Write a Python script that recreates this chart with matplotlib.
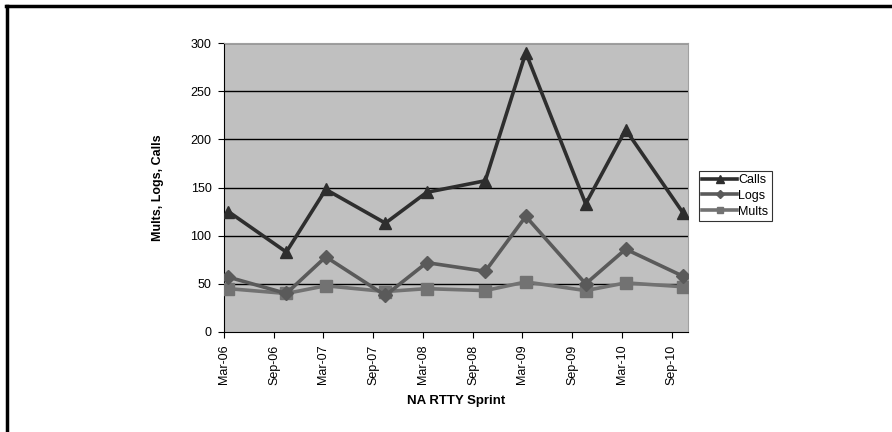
import matplotlib.pyplot as plt
import matplotlib.dates as mdates
from matplotlib.lines import Line2D
import datetime as dt

plt.rcParams['font.family'] = ['Liberation Sans', 'DejaVu Sans']

# sprint dates
dates = [dt.date(2006, 3, 17), dt.date(2006, 10, 16), dt.date(2007, 3, 10),
         dt.date(2007, 10, 15), dt.date(2008, 3, 15), dt.date(2008, 10, 16),
         dt.date(2009, 3, 14), dt.date(2009, 10, 20), dt.date(2010, 3, 16),
         dt.date(2010, 10, 12)]
calls = [125, 83, 148, 113, 145, 157, 290, 133, 210, 124]
logs = [57, 40, 78, 38, 72, 63, 120, 50, 86, 58]
mults = [45, 40, 48, 42, 45, 43, 52, 43, 51, 47]

tick_dates = [dt.date(y, m, 1) for y in range(2006, 2011) for m in (3, 9)]

W, H = 892, 432
fig = plt.figure(figsize=(W / 100, H / 100), dpi=100)
ax = fig.add_axes([224 / W, 1 - 332 / H, (688 - 224) / W, (332 - 43) / H])
ax.set_facecolor('#c0c0c0')

# outer frame (only top and left edges show)
fig.add_artist(Line2D([6 / W, 1], [1 - 6 / H, 1 - 6 / H], color='black', lw=2.5,
                      transform=fig.transFigure))
fig.add_artist(Line2D([7 / W, 7 / W], [0, 1 - 6 / H], color='black', lw=2.5,
                      transform=fig.transFigure))

for v in range(50, 301, 50):
    ax.axhline(v, color='black', lw=1, zorder=1)

ax.plot(dates, mults, color='#727272', lw=2.6, marker='s', ms=8, label='Mults', zorder=3)
ax.plot(dates, logs, color='#5a5a5a', lw=2.6, marker='D', ms=7, label='Logs', zorder=4)
ax.plot(dates, calls, color='#2e2e2e', lw=2.6, marker='^', ms=9, label='Calls', zorder=5)

ax.set_ylim(0, 300)
ax.set_yticks(range(0, 301, 50))
ax.set_xlim(dt.date(2006, 3, 1), dt.date(2010, 10, 31))
ax.set_xticks(tick_dates)
ax.xaxis.set_major_formatter(mdates.DateFormatter('%b-%y'))
plt.setp(ax.get_xticklabels(), rotation=90)
ax.tick_params(axis='both', labelsize=9, length=4, direction='out', color='black', pad=5)

for s in ('top', 'right'):
    ax.spines[s].set_color('#a0a0a0')
for s in ('left', 'bottom'):
    ax.spines[s].set_color('black')

ax.set_xlabel('NA RTTY Sprint', fontsize=9.5, fontweight='bold')
ax.xaxis.set_label_coords(0.5, -0.218)
ax.set_ylabel('Mults, Logs, Calls', fontsize=9, fontweight='bold')
ax.yaxis.set_label_coords(-0.129, 0.5)

h, l = ax.get_legend_handles_labels()
leg = fig.legend(h[::-1], l[::-1], loc='upper left',
                 bbox_to_anchor=(699 / W, 1 - 171 / H),
                 fontsize=9, frameon=True, fancybox=False, edgecolor='black',
                 handlelength=2.8, handletextpad=0.1, borderpad=0.25,
                 labelspacing=0.3, markerscale=0.6, borderaxespad=0)
leg.get_frame().set_linewidth(0.8)

fig.savefig('out.png', dpi=100, facecolor='white')
